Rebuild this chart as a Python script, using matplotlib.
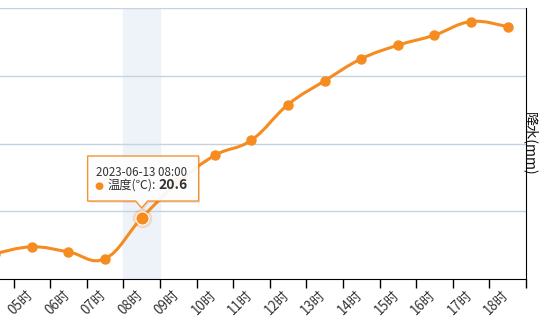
import numpy as np
import matplotlib
matplotlib.use('Agg')
import matplotlib.pyplot as plt
from matplotlib.path import Path
from matplotlib.patches import PathPatch, Polygon
from matplotlib.transforms import IdentityTransform, ScaledTranslation

plt.rcParams['font.family'] = ['Noto Sans CJK SC', 'DejaVu Sans']

# data
hours = ['04时', '05时', '06时', '07时', '08时', '09时', '10时', '11时',
         '12时', '13时', '14时', '15时', '16时', '17时', '18时']
temps = [18.5, 18.9, 18.6, 18.2, 20.6, 22.7, 24.3, 25.2, 27.3, 28.7,
         30.0, 30.8, 31.4, 32.2, 31.9]
grid_vals = [21, 25, 29, 33]
hover_idx = 4
hover_time = '2023-06-13 08:00'

orange = '#F68B1F'
W, H = 548, 327

fig = plt.figure(figsize=(W / 100, H / 100), dpi=100)
ax = fig.add_axes([0, 1 - 279 / H, 526 / W, 271 / H])

# hover band
ax.axvspan(hover_idx - 0.5, hover_idx + 0.5, color='#eef3f9', zorder=0)
for g in grid_vals:
    ax.axhline(g, color='#c5d2e0', lw=1, zorder=1)

# smooth line (bezier through the points)
x = np.arange(len(temps), dtype=float)
pts = np.column_stack([x, temps])
k = 0.2
verts = [pts[0]]
codes = [Path.MOVETO]
for i in range(len(pts) - 1):
    prev = pts[max(i - 1, 0)]
    nxt = pts[min(i + 2, len(pts) - 1)]
    cp1 = pts[i] + k * (pts[i + 1] - prev)
    cp2 = pts[i + 1] - k * (nxt - pts[i])
    verts += [cp1, cp2, pts[i + 1]]
    codes += [Path.CURVE4] * 3
ax.add_patch(PathPatch(Path(verts, codes), fill=False, edgecolor=orange,
                       lw=2.2, zorder=3, capstyle='round', joinstyle='round'))
ax.plot(x, temps, 'o', color=orange, ms=6.5, zorder=4)

# emphasised point
ax.plot(hover_idx, temps[hover_idx], 'o', color=orange, ms=14, alpha=0.25,
        mec='none', zorder=5)
ax.plot(hover_idx, temps[hover_idx], 'o', color=orange, ms=9.5, mec='white',
        mew=0.8, zorder=6)

# axes styling
for s in ['top', 'left']:
    ax.spines[s].set_visible(False)
ax.spines['bottom'].set_color('black')
ax.spines['right'].set_color('black')
ax.set_xticks(np.arange(-0.5, len(hours), 1.0))
ax.set_xticklabels([])
ax.set_xticks(x, minor=True)
ax.set_xticklabels(hours, minor=True, rotation=45, ha='right', va='top',
                   rotation_mode='anchor', fontsize=9.6, color='#333333')
ax.tick_params(axis='x', which='major', length=6.5, width=1, color='black')
ax.tick_params(axis='x', which='minor', length=0, pad=6)
shift = ScaledTranslation(-6 / 100, 0, fig.dpi_scale_trans)
for lab in ax.get_xticklabels(minor=True):
    lab.set_transform(lab.get_transform() + shift)
ax.set_yticks([])
ax.yaxis.set_label_position('right')
ax.set_ylabel('降水(mm)', rotation=-90, fontsize=10.2, color='#111111',
              labelpad=3, va='center')
# left part of the category axis is cut off, as in the original
ax.set_xlim(0.13, len(hours) - 0.5)
ax.set_ylim(17, 33)

# tooltip
fig.canvas.draw()
px, py = ax.transData.transform((hover_idx, temps[hover_idx]))
bx0, bx1 = px - 54, px + 57
by0, by1 = py + 17, py + 62
tip = py + 10
shape = [(bx0, by0), (px - 6, by0), (px, tip), (px + 6, by0), (bx1, by0),
         (bx1, by1), (bx0, by1)]
shadow = [(a + 1.5, b - 2) for a, b in shape]
fig.patches.append(Polygon(shadow, closed=True, facecolor='#000000', alpha=0.08,
                           edgecolor='none', transform=IdentityTransform(),
                           zorder=8))
fig.patches.append(Polygon(shape, closed=True, facecolor='white', alpha=0.93,
                           edgecolor=orange, lw=1, transform=IdentityTransform(),
                           zorder=9, joinstyle='round'))
fig.text(px - 46, py + 46, hover_time, transform=IdentityTransform(),
         fontsize=8.3, color='#333333', va='center', ha='left', zorder=10)
fig.text(px - 42.5, py + 32.5, '●', transform=IdentityTransform(),
         fontsize=7.5, color=orange, va='center', ha='center', zorder=10,
         family=['DejaVu Sans'])
fig.text(px - 34, py + 33, '温度(℃):', transform=IdentityTransform(),
         fontsize=8.8, color='#333333', va='center', ha='left', zorder=10)
fig.text(px + 17, py + 33, f'{temps[hover_idx]}', transform=IdentityTransform(),
         fontsize=10, color='#333333', va='center', ha='left', zorder=10,
         fontweight='bold')

fig.savefig('out.png', dpi=100)
